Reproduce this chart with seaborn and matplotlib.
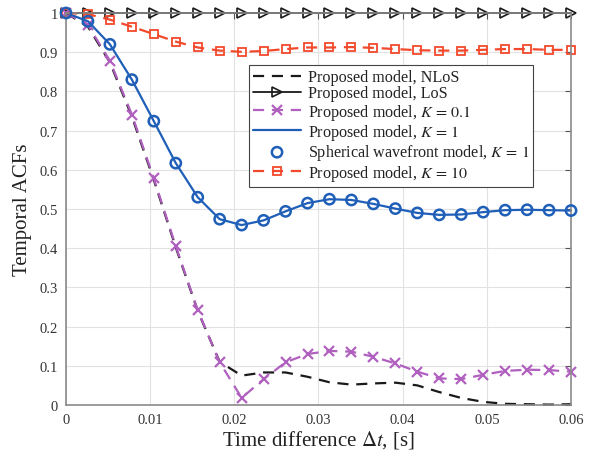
import numpy as np
import pandas as pd
import matplotlib
matplotlib.use("Agg")
import matplotlib.pyplot as plt
import seaborn as sns

# ---- data ----
t = np.linspace(0, 0.06, 24)

nlos = [1.0, 0.965, 0.874, 0.736, 0.574, 0.402, 0.240, 0.110, 0.075, 0.083,
        0.083, 0.072, 0.058, 0.052, 0.055, 0.057, 0.050, 0.033, 0.018, 0.008,
        0.003, 0.002, 0.001, 0.002]
los = [1.0] * 24
k01 = [1.0, 0.969, 0.878, 0.741, 0.578, 0.405, 0.242, 0.109, 0.018, 0.066,
       0.109, 0.130, 0.138, 0.136, 0.123, 0.106, 0.085, 0.068, 0.066, 0.077,
       0.087, 0.090, 0.089, 0.085]
k1 = [1.0, 0.979, 0.920, 0.830, 0.724, 0.617, 0.530, 0.474, 0.459, 0.471,
      0.494, 0.515, 0.525, 0.523, 0.513, 0.501, 0.490, 0.485, 0.486, 0.492,
      0.497, 0.498, 0.497, 0.496]
sph = k1
k10 = [1.0, 0.997, 0.983, 0.965, 0.946, 0.927, 0.912, 0.904, 0.901, 0.903,
       0.908, 0.912, 0.912, 0.913, 0.911, 0.908, 0.905, 0.904, 0.904, 0.906,
       0.908, 0.908, 0.906, 0.906]

xticks = [0, 0.01, 0.02, 0.03, 0.04, 0.05, 0.06]
xticklabels = ["0", "0.01", "0.02", "0.03", "0.04", "0.05", "0.06"]
yticks = [0, 0.1, 0.2, 0.3, 0.4, 0.5, 0.6, 0.7, 0.8, 0.9, 1.0]
yticklabels = ["0", "0.1", "0.2", "0.3", "0.4", "0.5", "0.6", "0.7", "0.8", "0.9", "1"]

labels = ["Proposed model, NLoS", "Proposed model, LoS",
          r"Proposed model, $K\,=\,0.1$", r"Proposed model, $K\,=\,1$",
          r"Spherical wavefront model, $K\,=\,1$", r"Proposed model, $K\,=\,10$"]

# ---- style ----
sns.set_theme(style="whitegrid")
plt.rcParams["font.family"] = ["Liberation Serif", "DejaVu Serif"]
plt.rcParams["mathtext.fontset"] = "stix"

black = "#1a1a1a"
purple = "#B060BE"
blue = "#1F5FB8"
red = "#F2492C"

fig = plt.figure(figsize=(6.01, 4.6), dpi=100)
ax = fig.add_axes([0.1098, 0.1174, 0.8403, 0.8522])
ax.set_facecolor("white")

sns.lineplot(x=t, y=nlos, ax=ax, color=black, linestyle="--", linewidth=1.6,
             label=labels[0], clip_on=False, dashes=False)
ax.lines[-1].set_dashes([5, 3.5])
sns.lineplot(x=t, y=los, ax=ax, color=black, linewidth=1.3, marker=">",
             markersize=7, markerfacecolor="none", markeredgecolor=black,
             markeredgewidth=1.2, label=labels[1], clip_on=False)
sns.lineplot(x=t, y=k01, ax=ax, color=purple, linewidth=1.6, marker="x",
             markersize=6.5, markeredgewidth=1.6, markeredgecolor=purple,
             label=labels[2], clip_on=False)
ax.lines[-1].set_dashes([5, 3.5])
sns.lineplot(x=t, y=k1, ax=ax, color=blue, linewidth=1.6, label=labels[3],
             clip_on=False)
sns.scatterplot(x=t, y=sph, ax=ax, marker="o", s=55, facecolors="none",
                edgecolor=blue, linewidth=1.8, label=labels[4], clip_on=False,
                zorder=3)
sns.lineplot(x=t, y=k10, ax=ax, color=red, linewidth=1.6, marker="s",
             markersize=6.2, markerfacecolor="none", markeredgecolor=red,
             markeredgewidth=1.3, label=labels[5], clip_on=False)
ax.lines[-1].set_dashes([5, 3.5])

ax.set_xlim(0, 0.06)
ax.set_ylim(0, 1)
ax.set_xticks(xticks)
ax.set_xticklabels(xticklabels)
ax.set_yticks(yticks)
ax.set_yticklabels(yticklabels)
ax.tick_params(axis="both", which="both", direction="in", length=4, width=0.8,
               color="#555555", labelsize=10.5, labelcolor="#333333",
               top=True, right=True, pad=6)
ax.grid(True, color="#e2e2e2", linewidth=0.8)
for sp in ax.spines.values():
    sp.set_color("#8a8a8a")
    sp.set_linewidth(1.2)

ax.set_xlabel(r"Time difference $\Delta t$, [s]", fontsize=15, color="#222222",
              labelpad=1)
ax.set_ylabel("Temporal ACFs", fontsize=15, color="#222222", labelpad=5)

leg = ax.legend(loc="upper left", bbox_to_anchor=(0.362, 0.867),
                fontsize=11.6, frameon=True, fancybox=False, framealpha=1,
                edgecolor="#444444", handlelength=3.0, labelspacing=0.02,
                borderpad=0.25, handletextpad=0.4, borderaxespad=0)
leg.get_frame().set_linewidth(0.8)
for txt in leg.get_texts():
    txt.set_color("#222222")

fig.savefig("out.png", dpi=100)
